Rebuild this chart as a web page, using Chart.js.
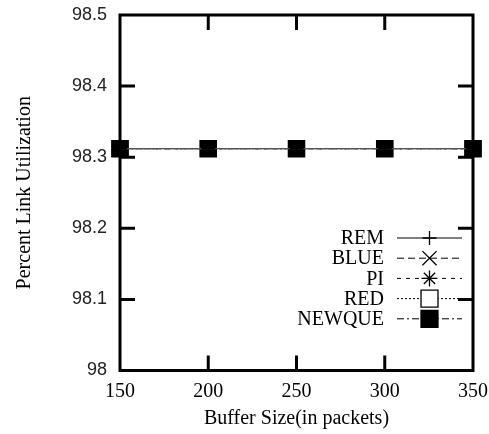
<!DOCTYPE html>
<html>
<head>
<meta charset="utf-8">
<script src="https://cdn.jsdelivr.net/npm/chart.js@4/dist/chart.umd.min.js"></script>
<style>
  html, body { margin: 0; padding: 0; background: #fff; }
  #wrap { width: 489px; height: 434px; }
</style>
</head>
<body>
<div id="wrap"><canvas id="utilChart" width="489" height="434"></canvas></div>
<script>
// buffer sizes (packets) and link utilization (%) per queue scheme
const bufferSizes = [150, 200, 250, 300, 350];
const remUtil = [98.312, 98.312, 98.312, 98.312, 98.312];
const blueUtil = [98.312, 98.312, 98.312, 98.312, 98.312];
const piUtil = [98.312, 98.312, 98.312, 98.312, 98.312];
const redUtil = [98.312, 98.312, 98.312, 98.312, 98.312];
const newqueUtil = [98.312, 98.312, 98.312, 98.312, 98.312];
const seriesNames = ["REM", "BLUE", "PI", "RED", "NEWQUE"];
const xTicks = [150, 200, 250, 300, 350];
const yTicks = [98, 98.1, 98.2, 98.3, 98.4, 98.5];

const serif = "'Liberation Serif', 'Times New Roman', serif";
const sans = "'Liberation Sans', Arial, sans-serif";

// line + marker look for each scheme (also used by the legend)
const styles = [
	{ dash: [], point: "cross", r: 7, legendR: 7, fill: false },
	{ dash: [7, 4], point: "crossRot", r: 9, legendR: 10, fill: false },
	{ dash: [4, 5], point: "star", r: 8, legendR: 8, fill: false },
	{ dash: [2, 2], point: "rect", r: 11, legendR: 12, fill: false },
	{ dash: [7, 3, 2, 3], point: "rect", r: 11.5, legendR: 12, fill: true },
];

const allValues = [remUtil, blueUtil, piUtil, redUtil, newqueUtil];

// REM's solid line ends up on top; its small crosses vanish inside the black squares
const drawOrder = [0, 5, 4, 3, 1];

const datasets = allValues.map((vals, i) => ({
	label: seriesNames[i],
	data: bufferSizes.map((x, j) => ({ x: x, y: vals[j] })),
	borderColor: i === 0 ? "#555" : "#000",
	borderWidth: i === 0 ? 1.4 : 1,
	borderDash: styles[i].dash,
	pointStyle: styles[i].point,
	pointRadius: styles[i].r,
	pointHoverRadius: styles[i].r,
	pointBorderColor: "#000",
	pointBorderWidth: 1.3,
	pointBackgroundColor: styles[i].fill ? "#000" : "#fff",
	order: drawOrder[i],
	clip: false,
	fill: false,
	tension: 0,
}));

// box around the plot with inward ticks on all four sides
const framePlugin = {
	id: "frame",
	beforeDatasetsDraw(chart) {
		const { ctx, chartArea: a, scales } = chart;
		const len = 15;
		ctx.save();
		ctx.strokeStyle = "#000";
		ctx.lineWidth = 3;
		ctx.lineCap = "square";
		ctx.strokeRect(a.left, a.top, a.right - a.left, a.bottom - a.top);
		ctx.lineCap = "butt";
		ctx.beginPath();
		xTicks.slice(1, -1).forEach((v) => {
			const px = scales.x.getPixelForValue(v);
			ctx.moveTo(px, a.bottom);
			ctx.lineTo(px, a.bottom - len);
			ctx.moveTo(px, a.top);
			ctx.lineTo(px, a.top + len);
		});
		yTicks.slice(1, -1).forEach((v) => {
			const py = scales.y.getPixelForValue(v);
			ctx.moveTo(a.left, py);
			ctx.lineTo(a.left + len, py);
			ctx.moveTo(a.right, py);
			ctx.lineTo(a.right - len, py);
		});
		ctx.stroke();
		ctx.restore();
	},
};

// key in the lower right: name, then line sample with its marker
const keyPlugin = {
	id: "key",
	afterDraw(chart) {
		const { ctx, chartArea: a } = chart;
		const textRight = a.right - 89;
		const lineStart = a.right - 76;
		const lineEnd = a.right - 11;
		const markX = (lineStart + lineEnd) / 2;
		const rowTop = a.top + 223;
		const rowStep = 20.2;
		ctx.save();
		ctx.font = "20px " + serif;
		ctx.textAlign = "right";
		ctx.textBaseline = "middle";
		seriesNames.forEach((name, i) => {
			const y = rowTop + i * rowStep;
			ctx.fillStyle = "#000";
			ctx.fillText(name, textRight, y + 1);
			ctx.strokeStyle = "#000";
			ctx.lineWidth = 1;
			ctx.setLineDash(styles[i].dash);
			ctx.beginPath();
			ctx.moveTo(lineStart, y);
			ctx.lineTo(lineEnd, y);
			ctx.stroke();
			ctx.setLineDash([]);
			ctx.fillStyle = styles[i].fill ? "#000" : "#fff";
			ctx.lineWidth = 1.3;
			Chart.helpers.drawPoint(
				ctx,
				{ pointStyle: styles[i].point, radius: styles[i].legendR, rotation: 0, borderWidth: 1.3 },
				markX,
				y
			);
		});
		ctx.restore();
	},
};

new Chart(document.getElementById("utilChart"), {
	type: "line",
	data: { datasets: datasets },
	options: {
		responsive: false,
		animation: false,
		events: [],
		layout: { padding: { top: 15, right: 16, bottom: 3, left: 0 } },
		plugins: {
			legend: { display: false },
			tooltip: { enabled: false },
		},
		scales: {
			x: {
				type: "linear",
				min: 150,
				max: 350,
				afterBuildTicks: (scale) => {
					scale.ticks = xTicks.map((v) => ({ value: v }));
				},
				afterFit: (scale) => {
					scale.height = 60.5;
					scale.paddingLeft = 0;
					scale.paddingRight = 0;
				},
				grid: { display: false, drawTicks: false },
				border: { display: false },
				ticks: {
					padding: 9,
					color: "#000",
					font: { family: serif, size: 20 },
					maxRotation: 0,
				},
				title: {
					display: true,
					text: "Buffer Size(in packets)",
					color: "#000",
					font: { family: serif, size: 20 },
					padding: { top: 0, bottom: 0 },
				},
			},
			y: {
				type: "linear",
				min: 98,
				max: 98.5,
				afterBuildTicks: (scale) => {
					scale.ticks = yTicks.map((v) => ({ value: v }));
				},
				afterFit: (scale) => {
					scale.width = 120;
					scale.paddingTop = 0;
					scale.paddingBottom = 0;
				},
				grid: { display: false, drawTicks: false },
				border: { display: false },
				ticks: {
					padding: 13,
					color: "#222",
					font: { family: sans, size: 18 },
					callback: (v) => String(+v.toFixed(1)),
				},
				title: {
					display: true,
					text: "Percent Link Utilization",
					color: "#000",
					font: { family: serif, size: 20 },
					padding: { top: 13, bottom: 0 },
				},
			},
		},
	},
	plugins: [framePlugin, keyPlugin],
});
</script>
</body>
</html>
